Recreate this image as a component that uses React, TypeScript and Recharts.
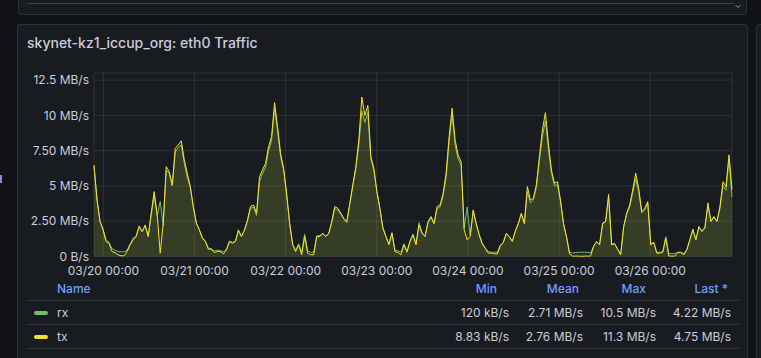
import React from "react";
import { ComposedChart, Area, XAxis, YAxis, CartesianGrid } from "recharts";

// Hours relative to 03/20 00:00; 7-day window sampled uniformly
const START_HOUR = -2.47;
const STEP_HOURS = 168 / 212;

const txValues = [
  6.48, 4.0, 2.48, 1.89, 1.06, 0.94, 0.35, 0.28, 0.12, 0.05,
  0.05, 0.35, 0.83, 1.18, 1.41, 2.17, 1.77, 2.24, 1.41, 3.07,
  4.6, 2.95, 0.24, 2.36, 6.37, 6.0, 5.07, 7.66, 7.9, 8.2,
  6.84, 5.9, 4.95, 3.54, 2.36, 1.89, 1.3, 1.06, 0.52, 0.52,
  0.28, 0.35, 0.35, 0.19, 0.47, 1.06, 0.94, 1.06, 1.84, 1.41,
  1.89, 2.59, 3.54, 3.65, 3.07, 5.66, 6.13, 6.6, 7.78, 8.49,
  10.9, 9.2, 7.3, 6.25, 4.48, 2.36, 0.83, 0.35, 0.83, 0.12,
  1.41, 0.24, 0.12, 0.12, 1.41, 1.41, 1.65, 1.41, 1.65, 2.48,
  3.54, 3.42, 3.07, 2.71, 2.48, 3.77, 5.07, 6.37, 8.25, 11.3,
  10.0, 10.7, 7.07, 6.25, 4.6, 3.42, 2.0, 1.41, 0.83, 1.65,
  0.35, 0.28, 0.12, 0.83, 0.3, 1.06, 1.53, 0.83, 2.24, 1.65,
  1.41, 2.48, 2.83, 2.36, 3.54, 3.65, 4.48, 5.9, 8.49, 10.5,
  8.25, 7.19, 6.7, 1.89, 1.18, 1.41, 3.3, 2.36, 1.53, 0.9,
  0.59, 0.24, 0.24, 0.19, 0.17, 0.75, 0.99, 1.65, 1.41, 1.06,
  1.8, 2.36, 3.07, 2.36, 4.95, 4.0, 4.13, 5.07, 7.07, 8.96,
  10.2, 8.0, 6.13, 5.19, 5.3, 4.0, 2.36, 1.41, 0.19, 0.03,
  0.03, 0.03, 0.01, 0.03, 0.03, 0.03, 0.71, 1.06, 0.83, 2.36,
  2.48, 4.4, 0.83, 0.9, 0.5, 0.12, 2.12, 3.07, 3.65, 4.72,
  5.9, 4.83, 3.18, 3.42, 3.89, 0.83, 0.99, 0.24, 0.24, 0.3,
  1.3, 0.03, 0.03, 0.03, 0.28, 0.28, 0.12, 0.47, 1.18, 1.93,
  1.18, 2.12, 1.77, 2.0, 3.8, 2.48, 2.83, 2.48, 3.54, 5.3,
  4.95, 7.2, 4.75,
];

const rxValues = [
  6.4, 4.1, 2.5, 1.95, 1.2, 1.0, 0.55, 0.45, 0.35, 0.33,
  0.33, 0.45, 0.9, 1.3, 1.45, 2.05, 1.75, 2.15, 1.45, 2.9,
  4.3, 2.9, 3.9, 2.2, 6.1, 5.9, 5.0, 7.4, 7.7, 7.9,
  6.6, 5.6, 4.9, 3.5, 2.4, 1.9, 1.35, 1.1, 0.6, 0.55,
  0.4, 0.45, 0.4, 0.35, 0.5, 1.1, 1.0, 1.1, 1.9, 1.45,
  1.85, 2.5, 3.4, 3.5, 2.9, 5.3, 5.9, 6.3, 7.5, 8.2,
  10.5, 8.9, 7.1, 6.1, 4.4, 2.4, 0.9, 0.45, 0.9, 0.3,
  1.6, 0.4, 0.3, 0.3, 1.45, 1.5, 1.6, 1.45, 1.6, 2.4,
  3.4, 3.3, 3.0, 2.65, 2.4, 3.7, 5.0, 6.2, 7.9, 10.3,
  9.5, 10.2, 6.9, 6.1, 4.6, 3.4, 2.05, 1.45, 0.9, 1.7,
  0.45, 0.4, 0.3, 0.9, 0.4, 1.1, 1.6, 0.9, 2.4, 1.7,
  1.45, 2.4, 2.75, 2.3, 3.4, 3.5, 4.3, 5.6, 8.1, 10.1,
  7.9, 6.9, 6.5, 2.0, 3.5, 1.5, 3.2, 2.3, 1.55, 0.95,
  0.6, 0.35, 0.3, 0.3, 0.3, 0.8, 1.0, 1.6, 1.4, 1.1,
  1.8, 2.3, 3.0, 2.3, 4.6, 3.8, 4.0, 4.9, 6.8, 8.5,
  9.6, 7.6, 5.9, 5.0, 5.1, 3.9, 2.3, 1.4, 0.3, 0.25,
  0.28, 0.3, 0.3, 0.3, 0.3, 0.25, 0.7, 1.05, 0.85, 2.3,
  2.45, 4.2, 0.9, 0.9, 0.55, 0.12, 2.1, 3.0, 3.5, 4.5,
  5.5, 4.6, 3.1, 3.3, 3.8, 0.9, 1.0, 0.3, 0.3, 0.35,
  1.4, 0.2, 0.2, 0.2, 0.3, 0.3, 0.2, 0.5, 1.2, 1.9,
  1.2, 2.1, 1.8, 2.1, 3.6, 2.5, 2.8, 2.5, 3.4, 5.0,
  4.7, 6.9, 4.22,
];

const xTickHours = [0, 24, 48, 72, 96, 120, 144];
const xTickLabels = ["03/20 00:00", "03/21 00:00", "03/22 00:00", "03/23 00:00", "03/24 00:00", "03/25 00:00", "03/26 00:00"];
const yTicks = [0, 2.5, 5, 7.5, 10, 12.5];
const yTickLabels = ["0 B/s", "2.50 MB/s", "5 MB/s", "7.50 MB/s", "10 MB/s", "12.5 MB/s"];

const seriesNames = ["rx", "tx"];
const seriesColors = ["#73bf69", "#fade2a"];
const statHeaders = ["Min", "Mean", "Max", "Last *"];
const rxStats = ["120 kB/s", "2.71 MB/s", "10.5 MB/s", "4.22 MB/s"];
const txStats = ["8.83 kB/s", "2.76 MB/s", "11.3 MB/s", "4.75 MB/s"];

const data = txValues.map((v, i) => ({
  t: START_HOUR + i * STEP_HOURS,
  tx: v,
  rx: rxValues[i],
}));

const END_HOUR = START_HOUR + 168;

const TEXT = "#ccccdc";
const BLUE = "#6e9fff";
const BORDER = "rgba(204,204,220,0.12)";
const FONT = "Inter, 'Noto Sans', sans-serif";

const headerRight = [497, 579, 646, 728];
const valueRight = [509, 583, 656, 731];

export default function App() {
  const fmtX = (v: number) => {
    const idx = xTickHours.indexOf(Math.round(v));
    return idx >= 0 ? xTickLabels[idx] : "";
  };
  const fmtY = (v: number) => {
    const idx = yTicks.indexOf(v);
    return idx >= 0 ? yTickLabels[idx] : "";
  };
  const statsRows = [rxStats, txStats];
  return (
    <div
      style={{
        position: "absolute",
        left: 0,
        top: 0,
        width: 761,
        height: 358,
        background: "#111217",
        overflow: "hidden",
        fontFamily: FONT,
      }}
    >
      {/* top panel (partially visible) */}
      <div
        style={{
          position: "absolute",
          left: 18,
          top: -20,
          width: 729,
          height: 35,
          background: "#181b1f",
          border: `1px solid ${BORDER}`,
          borderRadius: 4,
          boxSizing: "border-box",
        }}
      />
      <div style={{ position: "absolute", left: 27, top: 3, width: 707, height: 1, background: "rgba(204,204,220,0.2)" }} />
      <svg style={{ position: "absolute", left: 734, top: 2 }} width={8} height={8}>
        <path d="M1.5 3 L4 5.5 L6.5 3" stroke="#8e8e9a" strokeWidth={1} fill="none" />
      </svg>
      {/* right neighbour panel edge */}
      <div
        style={{
          position: "absolute",
          left: 756,
          top: 24,
          width: 20,
          height: 340,
          background: "#181b1f",
          border: `1px solid ${BORDER}`,
          borderRadius: 4,
          boxSizing: "border-box",
        }}
      />
      <div style={{ position: "absolute", left: 0, top: 175, width: 2, height: 8, background: "#8f86d9" }} />
      {/* main panel */}
      <div
        style={{
          position: "absolute",
          left: 17,
          top: 24,
          width: 731,
          height: 340,
          background: "#181b1f",
          border: `1px solid ${BORDER}`,
          borderRadius: 4,
          boxSizing: "border-box",
        }}
      />
      <div
        style={{
          position: "absolute",
          left: 27,
          top: 33,
          fontSize: 14,
          fontWeight: 500,
          color: TEXT,
          lineHeight: "20px",
          whiteSpace: "nowrap",
        }}
      >
        skynet-kz1_iccup_org: eth0 Traffic
      </div>
      <div style={{ position: "absolute", left: 0, top: 0 }}>
        <ComposedChart
          width={761}
          height={290}
          data={data}
          margin={{ top: 73, right: 29, left: 0, bottom: 3.5 }}
        >
          <CartesianGrid stroke="rgba(204,204,220,0.12)" strokeWidth={1} />
          <XAxis
            dataKey="t"
            type="number"
            domain={[START_HOUR, END_HOUR]}
            ticks={xTickHours}
            tickFormatter={fmtX}
            axisLine={false}
            tickLine={false}
            tickSize={0}
            tickMargin={10}
            height={30}
            interval={0}
            tick={{ fill: TEXT, fontSize: 12, fontFamily: FONT }}
          />
          <YAxis
            type="number"
            domain={[0, 13]}
            ticks={yTicks}
            tickFormatter={fmtY}
            axisLine={false}
            tickLine={false}
            tickSize={0}
            tickMargin={5}
            width={94}
            interval={0}
            tick={{ fill: TEXT, fontSize: 12, fontFamily: FONT }}
          />
          <Area
            type="linear"
            dataKey="rx"
            stroke={seriesColors[0]}
            strokeWidth={1}
            fill={seriesColors[0]}
            fillOpacity={0.1}
            dot={false}
            activeDot={false}
            isAnimationActive={false}
          />
          <Area
            type="linear"
            dataKey="tx"
            stroke={seriesColors[1]}
            strokeWidth={1}
            fill={seriesColors[1]}
            fillOpacity={0.1}
            dot={false}
            activeDot={false}
            isAnimationActive={false}
          />
        </ComposedChart>
      </div>
      {/* legend table */}
      <div style={{ position: "absolute", left: 57, top: 281, fontSize: 12, fontWeight: 500, color: BLUE, lineHeight: "16px" }}>
        Name
      </div>
      {statHeaders.map((h, i) => (
        <div
          key={h}
          style={{
            position: "absolute",
            right: 761 - headerRight[i],
            top: 281,
            fontSize: 12,
            fontWeight: 500,
            color: BLUE,
            lineHeight: "16px",
            whiteSpace: "nowrap",
          }}
        >
          {h}
        </div>
      ))}
      {[300, 324, 348].map((y) => (
        <div key={y} style={{ position: "absolute", left: 26, top: y, width: 714, height: 1, background: "rgba(204,204,220,0.12)" }} />
      ))}
      {seriesNames.map((name, r) => (
        <React.Fragment key={name}>
          <div
            style={{
              position: "absolute",
              left: 34,
              top: 311 + r * 24,
              width: 14,
              height: 4,
              borderRadius: 2,
              background: seriesColors[r],
            }}
          />
          <div style={{ position: "absolute", left: 57, top: 305 + r * 24, fontSize: 12, color: TEXT, lineHeight: "16px" }}>
            {name}
          </div>
          {statsRows[r].map((s, c) => (
            <div
              key={c}
              style={{
                position: "absolute",
                right: 761 - valueRight[c],
                top: 305 + r * 24,
                fontSize: 12,
                color: TEXT,
                lineHeight: "16px",
                whiteSpace: "nowrap",
              }}
            >
              {s}
            </div>
          ))}
        </React.Fragment>
      ))}
    </div>
  );
}
